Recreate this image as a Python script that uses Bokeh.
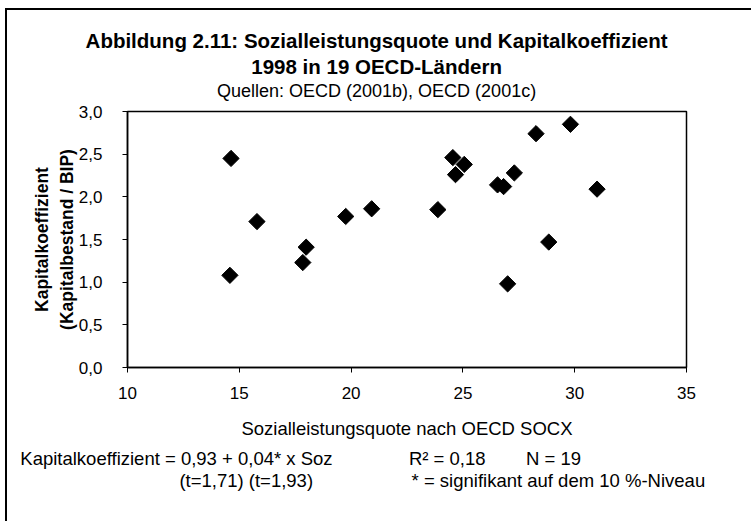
from bokeh.plotting import figure
from bokeh.models import FixedTicker, LinearAxis
from bokeh.embed import file_html
from bokeh.resources import INLINE
import math

# data: Sozialleistungsquote (x) and Kapitalkoeffizient (y), 19 OECD countries
soz = [14.63, 15.79, 14.58, 17.99, 17.84, 19.76, 20.92, 23.88, 24.55, 25.06,
       24.67, 26.55, 26.82, 27.30, 28.27, 29.81, 31.00, 28.84, 27.00]
kap = [2.45, 1.71, 1.08, 1.41, 1.23, 1.77, 1.86, 1.85, 2.46, 2.38,
       2.26, 2.14, 2.12, 2.28, 2.74, 2.85, 2.09, 1.47, 0.98]

x_ticks = [10, 15, 20, 25, 30, 35]
y_ticks = [0.0, 0.5, 1.0, 1.5, 2.0, 2.5, 3.0]
y_tick_labels = ["0,0", "0,5", "1,0", "1,5", "2,0", "2,5", "3,0"]

title1 = "Abbildung 2.11: Sozialleistungsquote und Kapitalkoeffizient"
title2 = "1998 in 19 OECD-Ländern"
subtitle = "Quellen: OECD (2001b), OECD (2001c)"
x_label = "Sozialleistungsquote nach OECD SOCX"
y_label1 = "Kapitalkoeffizient"
y_label2 = "(Kapitalbestand / BIP)"
note1 = ["Kapitalkoeffizient = 0,93 + 0,04* x Soz", "R² = 0,18", "N = 19"]
note2 = ["(t=1,71) (t=1,93)", "* = signifikant auf dem 10 %-Niveau"]

# layout constants: x positions (in axis units) where texts are centred
title_pos = 21.14
note1_pos = [12.19, 24.30, 29.05]
note2_pos = [15.31, 29.27]

OX, OY = 7, 10            # canvas origin on the page (margin + border)
W, H = 746, 513
FL, FR, FT, FB = 127 - OX, 686 - OX, 111 - OY, 367 - OY   # frame in canvas px
FONT = "Liberation Sans"
TXT = "18.5px"

p = figure(width=W, height=H, output_backend="svg", toolbar_location=None,
           x_range=(10, 35), y_range=(0, 3),
           min_border_left=FL, min_border_right=W - FR,
           min_border_top=FT, min_border_bottom=H - FB)
p.background_fill_color = "white"
p.border_fill_color = "white"
p.outline_line_color = "black"
p.outline_line_width = 1.5
p.xgrid.visible = False
p.ygrid.visible = False
p.styles = {"margin-left": "5px", "margin-top": "8px",
            "border-left": "2px solid black", "border-top": "2px solid black"}

for ax in (p.xaxis[0], p.yaxis[0]):
    ax.axis_line_color = "black"
    ax.axis_line_width = 1.5
    ax.major_tick_line_color = "black"
    ax.major_tick_in = 0
    ax.major_tick_out = 5
    ax.minor_tick_out = 0
    ax.minor_tick_line_color = None
    ax.major_label_text_font = FONT
    ax.major_label_text_font_size = "17px"
    ax.major_label_text_color = "black"

p.xaxis.ticker = FixedTicker(ticks=x_ticks)
p.yaxis.ticker = FixedTicker(ticks=y_ticks)
p.yaxis.major_label_overrides = {t: l for t, l in zip(y_ticks, y_tick_labels)}
p.xaxis.major_label_standoff = 14
p.yaxis.major_label_standoff = 20

p.xaxis.axis_label = x_label
p.xaxis.axis_label_text_font = FONT
p.xaxis.axis_label_text_font_size = TXT
p.xaxis.axis_label_text_font_style = "normal"
p.xaxis.axis_label_text_color = "black"
p.xaxis.axis_label_standoff = 16

p.yaxis.axis_label = y_label2
p.yaxis.axis_label_text_font = FONT
p.yaxis.axis_label_text_font_size = "17.5px"
p.yaxis.axis_label_text_font_style = "bold"
p.yaxis.axis_label_text_color = "black"
p.yaxis.axis_label_standoff = -1

# first line of the y-axis title, as a label-only axis further out
yl1 = LinearAxis(ticker=FixedTicker(ticks=[]), axis_line_color=None,
                 major_tick_line_color=None, minor_tick_line_color=None,
                 major_tick_out=0, major_tick_in=0, minor_tick_out=0, minor_tick_in=0,
                 major_label_standoff=0,
                 axis_label=y_label1, axis_label_text_font=FONT,
                 axis_label_text_font_size="17.5px", axis_label_text_font_style="bold",
                 axis_label_text_color="black", axis_label_standoff=2)
p.add_layout(yl1, "left")


def text_axis(side, texts, pos, standoff, size, style="normal"):
    ax = LinearAxis(ticker=FixedTicker(ticks=pos), axis_line_color=None,
                    major_tick_line_color=None, minor_tick_line_color=None,
                    major_tick_out=0, major_tick_in=0, minor_tick_out=0, minor_tick_in=0,
                    major_label_standoff=standoff,
                    major_label_text_font=FONT, major_label_text_font_size=size,
                    major_label_text_font_style=style,
                    major_label_text_color="black")
    ax.major_label_overrides = {v: t for v, t in zip(pos, texts)}
    p.add_layout(ax, side)


# notes under the x-axis title
text_axis("below", note1, note1_pos, 6, TXT)
text_axis("below", note2, note2_pos, -2, TXT)

# chart title block (first added sits nearest to the plot)
text_axis("above", [subtitle], [title_pos], 11, "18px")
text_axis("above", [title2], [title_pos], 0, "20.5px", "bold")
text_axis("above", [title1], [title_pos], 0, "20.5px", "bold")

p.scatter(soz, kap, marker="square", size=11.5, angle=math.pi / 4,
          fill_color="black", line_color="black")

open("out.html", "w").write(file_html(p, INLINE))
